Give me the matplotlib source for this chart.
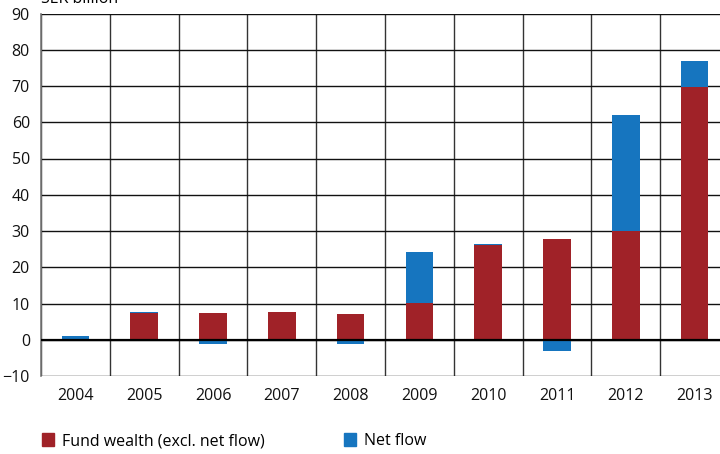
import matplotlib
matplotlib.use('Agg')
import matplotlib.pyplot as plt
from matplotlib.patches import Patch
import numpy as np

plt.rcParams['font.family'] = ['Open Sans', 'DejaVu Sans']

years = ['2004', '2005', '2006', '2007', '2008', '2009', '2010', '2011', '2012', '2013']
fund_wealth = [0.0, 7.3, 7.4, 7.7, 7.1, 10.1, 26.2, 27.9, 30.0, 69.6]
net_flow = [1.0, 0.4, -1.2, 0.0, -1.2, 14.2, 0.3, -3.2, 32.1, 7.3]

RED = '#a02228'
BLUE = '#1675bf'

fig = plt.figure(figsize=(7.2, 4.54), dpi=100)
ax = fig.add_axes([41 / 720, 1 - 376 / 454, 688 / 720, (376 - 13.5) / 454])

x = np.arange(len(years))
fw = np.array(fund_wealth)
nf = np.array(net_flow)
# positive flow stacks on top of fund wealth, negative flow hangs below zero
nf_bottom = np.where(nf >= 0, fw, 0)
ax.bar(x, fw, width=0.4, color=RED, zorder=3)
ax.bar(x, nf, bottom=nf_bottom, width=0.4, color=BLUE, zorder=3)

ax.set_xlim(-0.5, 9.5)
ax.set_ylim(-10, 90)
ax.set_yticks(np.arange(-10, 91, 10))
ax.set_xticks(x)
ax.set_xticklabels(years)
ax.set_xticks(np.arange(-0.5, 10, 1), minor=True)

ax.grid(axis='y', which='major', color='#111111', linewidth=1.0, zorder=1)
ax.grid(axis='x', which='minor', color='#333333', linewidth=1.0, zorder=1)
ax.axhline(0, color='black', linewidth=1.6, zorder=4)

for s in ['top', 'right', 'bottom']:
    ax.spines[s].set_visible(False)
ax.spines['left'].set_color('#777777')
ax.spines['left'].set_linewidth(1.2)

ax.tick_params(axis='both', which='both', length=0, labelsize=11.5, colors='#111111')
ax.tick_params(axis='y', pad=8)
ax.tick_params(axis='x', pad=9)

fig.text(41 / 720, 1 - 3 / 454, 'SEK billion', fontsize=11.5, va='baseline', ha='left')

handles = [Patch(color=RED, label='Fund wealth (excl. net flow)'),
           Patch(color=BLUE, label='Net flow')]
fig.legend(handles=handles, loc='center left', bbox_to_anchor=(0.038, 1 - 441 / 454),
           ncol=2, frameon=False, fontsize=11.5, handlelength=0.75, handleheight=0.9,
           handletextpad=0.5, columnspacing=5.0)

fig.savefig('out.png', dpi=100)
